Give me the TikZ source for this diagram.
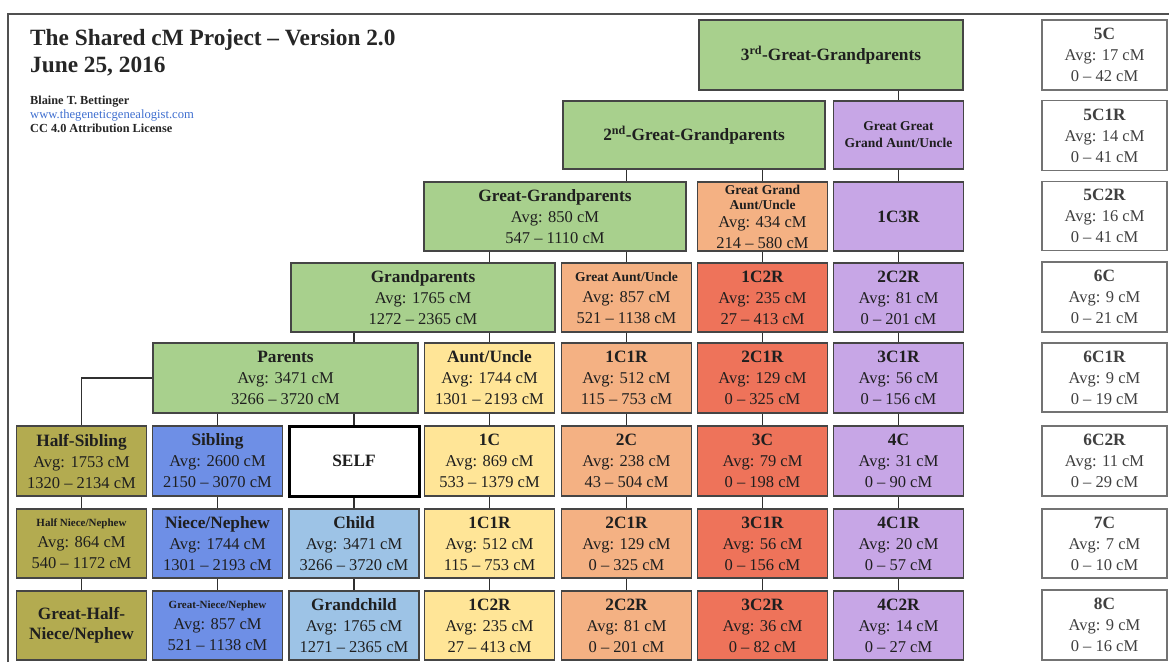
\documentclass[tikz,border=0pt]{standalone}
\usepackage{fontspec}
\setmainfont{Liberation Serif}
\definecolor{cgreen}{HTML}{A8D08D}
\definecolor{cpurple}{HTML}{C7A6E6}
\definecolor{corange}{HTML}{F4B183}
\definecolor{cred}{HTML}{EE735A}
\definecolor{cyellow}{HTML}{FFE597}
\definecolor{cblue}{HTML}{6E8FE6}
\definecolor{clblue}{HTML}{9DC3E6}
\definecolor{colive}{HTML}{B3AB50}
\definecolor{bordercol}{HTML}{454545}
\definecolor{conncol}{HTML}{303030}
\definecolor{framecol}{HTML}{505050}
\definecolor{clink}{HTML}{3F6FD0}
\newcommand{\boxhead}[1]{{\fontsize{17.3}{21}\selectfont\bfseries #1}}
\newcommand{\smallhead}[1]{{\fontsize{13.5}{15}\selectfont\bfseries #1}}
\newcommand{\tinyhead}[1]{{\fontsize{11}{12}\selectfont\bfseries #1}}
\begin{document}
\begin{tikzpicture}[x=1pt,y=-1pt,
  box/.style={draw=bordercol, line width=1.3pt, inner sep=0pt, minimum width=130pt,
    minimum height=69pt, align=center, text=black!88, font=\fontsize{16.5}{21}\selectfont},
  rbox/.style={box, draw=black!55, fill=white, text=black!75, minimum width=125pt},
  conn/.style={draw=conncol, line width=1.5pt},
  lbl/.style={anchor=base west, inner sep=0pt}]
\useasboundingbox (0,0) rectangle (1169,662);
\fill[white] (0,0) rectangle (1169,662);
\draw[framecol, line width=1.6pt] (8,662) -- (8,14) -- (1169,14);

% title block
\node[lbl, font=\fontsize{23.3}{27}\selectfont\bfseries, text=black!85] (title) at (30,45) {The Shared cM Project -- Version 2.0};
\node[lbl, font=\fontsize{23.3}{27}\selectfont\bfseries, text=black!85] (date) at (30,72) {June 25, 2016};
\node[lbl, font=\fontsize{12.3}{13}\selectfont\bfseries, text=black!85] (author) at (30,104) {Blaine T. Bettinger};
\node[lbl, font=\fontsize{12.6}{13}\selectfont, text=clink] (site) at (30,118) {www.thegeneticgenealogist.com};
\node[lbl, font=\fontsize{12.3}{13}\selectfont\bfseries, text=black!85] (lic) at (30,132) {CC 4.0 Attribution License};

% row 0
\node[box, fill=cgreen, minimum width=264, minimum height=70] (g3) at (831,55) {\boxhead{3\textsuperscript{rd}-Great-Grandparents}};
% row 1
\node[box, fill=cgreen, minimum width=262, minimum height=68] (g2) at (694,135) {\boxhead{2\textsuperscript{nd}-Great-Grandparents}};
\node[box, fill=cpurple, minimum height=68] (gggau) at (898.5,135) {\smallhead{Great Great}\\[-4pt]\smallhead{Grand Aunt/Uncle}};
% row 2
\node[box, fill=cgreen, minimum width=262] (ggp) at (555,216.5) {\boxhead{Great-Grandparents}\\Avg: 850 cM\\547 -- 1110 cM};
\node[box, fill=corange] (ggau) at (762.5,216.5) {\smallhead{Great Grand}\\[-6pt]\smallhead{Aunt/Uncle}\\[-3pt]Avg: 434 cM\\214 -- 580 cM};
\node[box, fill=cpurple] (c1c3r) at (898.5,216.5) {\boxhead{1C3R}};
% row 3
\node[box, fill=cgreen, minimum width=264] (gp) at (423,297.5) {\boxhead{Grandparents}\\Avg: 1765 cM\\1272 -- 2365 cM};
\node[box, fill=corange] (gau) at (626.5,297.5) {\smallhead{Great Aunt/Uncle}\\Avg: 857 cM\\521 -- 1138 cM};
\node[box, fill=cred] (c1c2ra) at (762.5,297.5) {\boxhead{1C2R}\\Avg: 235 cM\\27 -- 413 cM};
\node[box, fill=cpurple] (c2c2ra) at (898.5,297.5) {\boxhead{2C2R}\\Avg: 81 cM\\0 -- 201 cM};
% row 4
\node[box, fill=cgreen, minimum width=265, minimum height=70] (par) at (285.5,378) {\boxhead{Parents}\\Avg: 3471 cM\\3266 -- 3720 cM};
\node[box, fill=cyellow, minimum height=70] (au) at (489.5,378) {\boxhead{Aunt/Uncle}\\Avg: 1744 cM\\1301 -- 2193 cM};
\node[box, fill=corange, minimum height=70] (c1c1ra) at (626.5,378) {\boxhead{1C1R}\\Avg: 512 cM\\115 -- 753 cM};
\node[box, fill=cred, minimum height=70] (c2c1ra) at (762.5,378) {\boxhead{2C1R}\\Avg: 129 cM\\0 -- 325 cM};
\node[box, fill=cpurple, minimum height=70] (c3c1ra) at (898.5,378) {\boxhead{3C1R}\\Avg: 56 cM\\0 -- 156 cM};
% row 5
\node[box, fill=colive, minimum height=70] (hsib) at (81.5,461) {\boxhead{Half-Sibling}\\Avg: 1753 cM\\1320 -- 2134 cM};
\node[box, fill=cblue, minimum height=70] (sib) at (217.5,461) {\boxhead{Sibling}\\Avg: 2600 cM\\2150 -- 3070 cM};
\node[box, fill=white, draw=black, line width=3pt, minimum height=70] (self) at (354,461) {\boxhead{SELF}};
\node[box, fill=cyellow, minimum height=70] (c1) at (489.5,461) {\boxhead{1C}\\Avg: 869 cM\\533 -- 1379 cM};
\node[box, fill=corange, minimum height=70] (c2) at (626.5,461) {\boxhead{2C}\\Avg: 238 cM\\43 -- 504 cM};
\node[box, fill=cred, minimum height=70] (c3) at (762.5,461) {\boxhead{3C}\\Avg: 79 cM\\0 -- 198 cM};
\node[box, fill=cpurple, minimum height=70] (c4) at (898.5,461) {\boxhead{4C}\\Avg: 31 cM\\0 -- 90 cM};
% row 6
\node[box, fill=colive] (hniece) at (81.5,543.5) {\tinyhead{Half Niece/Nephew}\\Avg: 864 cM\\540 -- 1172 cM};
\node[box, fill=cblue] (niece) at (217.5,543.5) {\boxhead{Niece/Nephew}\\Avg: 1744 cM\\1301 -- 2193 cM};
\node[box, fill=clblue] (child) at (354,543.5) {\boxhead{Child}\\Avg: 3471 cM\\3266 -- 3720 cM};
\node[box, fill=cyellow] (c1c1rb) at (489.5,543.5) {\boxhead{1C1R}\\Avg: 512 cM\\115 -- 753 cM};
\node[box, fill=corange] (c2c1rb) at (626.5,543.5) {\boxhead{2C1R}\\Avg: 129 cM\\0 -- 325 cM};
\node[box, fill=cred] (c3c1rb) at (762.5,543.5) {\boxhead{3C1R}\\Avg: 56 cM\\0 -- 156 cM};
\node[box, fill=cpurple] (c4c1r) at (898.5,543.5) {\boxhead{4C1R}\\Avg: 20 cM\\0 -- 57 cM};
% row 7
\node[box, fill=colive] (ghniece) at (81.5,625.5) {\boxhead{Great-Half-}\\[-1pt]\boxhead{Niece/Nephew}};
\node[box, fill=cblue] (gniece) at (217.5,625.5) {\tinyhead{Great-Niece/Nephew}\\Avg: 857 cM\\521 -- 1138 cM};
\node[box, fill=clblue] (gchild) at (354,625.5) {\boxhead{Grandchild}\\Avg: 1765 cM\\1271 -- 2365 cM};
\node[box, fill=cyellow] (c1c2rb) at (489.5,625.5) {\boxhead{1C2R}\\Avg: 235 cM\\27 -- 413 cM};
\node[box, fill=corange] (c2c2rb) at (626.5,625.5) {\boxhead{2C2R}\\Avg: 81 cM\\0 -- 201 cM};
\node[box, fill=cred] (c3c2r) at (762.5,625.5) {\boxhead{3C2R}\\Avg: 36 cM\\0 -- 82 cM};
\node[box, fill=cpurple] (c4c2r) at (898.5,625.5) {\boxhead{4C2R}\\Avg: 14 cM\\0 -- 27 cM};

% right column
\node[rbox, minimum height=70] (r0) at (1104.5,55) {\boxhead{5C}\\Avg: 17 cM\\0 -- 42 cM};
\node[rbox, minimum height=70] (r1) at (1104.5,135.5) {\boxhead{5C1R}\\Avg: 14 cM\\0 -- 41 cM};
\node[rbox] (r2) at (1104.5,216) {\boxhead{5C2R}\\Avg: 16 cM\\0 -- 41 cM};
\node[rbox, minimum height=70] (r3) at (1104.5,297) {\boxhead{6C}\\Avg: 9 cM\\0 -- 21 cM};
\node[rbox] (r4) at (1104.5,377.5) {\boxhead{6C1R}\\Avg: 9 cM\\0 -- 19 cM};
\node[rbox, minimum height=70] (r5) at (1104.5,461) {\boxhead{6C2R}\\Avg: 11 cM\\0 -- 29 cM};
\node[rbox] (r6) at (1104.5,543.5) {\boxhead{7C}\\Avg: 7 cM\\0 -- 10 cM};
\node[rbox, minimum height=70] (r7) at (1104.5,625) {\boxhead{8C}\\Avg: 9 cM\\0 -- 16 cM};

% connectors
\draw[conn] (par.west) -| (hsib.north);
\draw[conn] (hsib.south) -- (hniece.north);
\draw[conn] (hniece.south) -- (ghniece.north);
\draw[conn] (sib.north |- par.south) -- (sib.north);
\draw[conn] (sib.south) -- (niece.north);
\draw[conn] (niece.south) -- (gniece.north);
\draw[conn] (self.north |- gp.south) -- (self.north |- par.north);
\draw[conn] (self.north |- par.south) -- (self.north);
\draw[conn] (self.south) -- (child.north);
\draw[conn] (child.south) -- (gchild.north);
\draw[conn] (au.north |- ggp.south) -- (au.north |- gp.north);
\draw[conn] (au.north |- gp.south) -- (au.north);
\draw[conn] (au.south) -- (c1.north);
\draw[conn] (c1.south) -- (c1c1rb.north);
\draw[conn] (c1c1rb.south) -- (c1c2rb.north);
\draw[conn] (gau.north |- g2.south) -- (gau.north |- ggp.north);
\draw[conn] (gau.north |- ggp.south) -- (gau.north);
\draw[conn] (gau.south) -- (c1c1ra.north);
\draw[conn] (c1c1ra.south) -- (c2.north);
\draw[conn] (c2.south) -- (c2c1rb.north);
\draw[conn] (c2c1rb.south) -- (c2c2rb.north);
\draw[conn] (ggau.north |- g2.south) -- (ggau.north);
\draw[conn] (ggau.south) -- (c1c2ra.north);
\draw[conn] (c1c2ra.south) -- (c2c1ra.north);
\draw[conn] (c2c1ra.south) -- (c3.north);
\draw[conn] (c3.south) -- (c3c1rb.north);
\draw[conn] (c3c1rb.south) -- (c3c2r.north);
\draw[conn] (gggau.north |- g3.south) -- (gggau.north);
\draw[conn] (gggau.south) -- (c1c3r.north);
\draw[conn] (c1c3r.south) -- (c2c2ra.north);
\draw[conn] (c2c2ra.south) -- (c3c1ra.north);
\draw[conn] (c3c1ra.south) -- (c4.north);
\draw[conn] (c4.south) -- (c4c1r.north);
\draw[conn] (c4c1r.south) -- (c4c2r.north);
\end{tikzpicture}
\end{document}
